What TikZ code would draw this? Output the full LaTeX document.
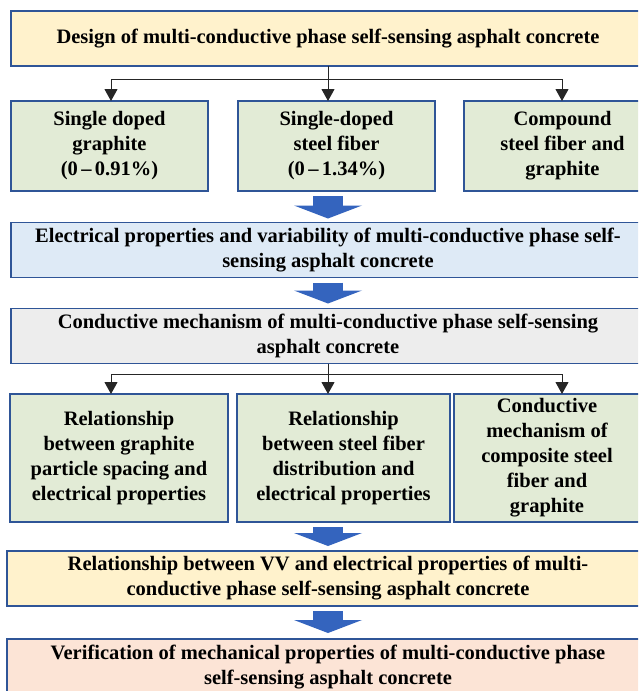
\documentclass[tikz,border=0pt]{standalone}
\usepackage{fontspec}
\setmainfont{Liberation Serif}
\usepackage{xcolor}
\usetikzlibrary{arrows.meta}
\definecolor{boxBlue}{HTML}{2F5597}
\definecolor{arrowBlue}{HTML}{3464BE}
\definecolor{yellowFill}{HTML}{FFF2CC}
\definecolor{greenFill}{HTML}{E2EBD6}
\definecolor{blueFill}{HTML}{DEEAF6}
\definecolor{grayFill}{HTML}{EDEDED}
\definecolor{pinkFill}{HTML}{FCE4D6}

\begin{document}
\begin{tikzpicture}[x=1pt, y=-1pt,
        font=\fontsize{20.5}{25}\selectfont\bfseries]
        \tikzstyle{boxStyle} = [draw=boxBlue, line width=1.5pt, align=center,
                inner sep=2pt, outer sep=0pt]
        \tikzstyle{wideBox} = [boxStyle, minimum width=634pt, minimum height=55pt]
        \tikzstyle{greenBox} = [boxStyle, fill=greenFill, minimum height=90pt]
        \tikzstyle{linkEdge} = [draw=black!85, line width=1pt,
                -{Triangle[length=12pt, width=13pt]}]
        \tikzstyle{bigArrow} = [draw=arrowBlue, line width=30pt,
                -{Triangle[length=13pt, width=68pt, line width=0pt]}]
        \fill[white] (0,0) rectangle (638,691);
        \useasboundingbox (0,0) rectangle (638,691);
        \clip (0,0) rectangle (638,691);
        \node[wideBox, fill=yellowFill] (design) at (328,38.5)
            {Design of multi-conductive phase self-sensing asphalt concrete};
        \node[greenBox, minimum width=197pt] (graph) at (109.5,146)
            {Single doped\\graphite\\(0\,--\,0.91\%)};
        \node[greenBox, minimum width=197pt] (steel) at (336.5,146)
            {Single-doped\\steel fiber\\(0\,--\,1.34\%)};
        \node[greenBox, minimum width=197pt] (comp) at (562.5,146)
            {Compound\\steel fiber and\\graphite};
        \node[wideBox, fill=blueFill] (elec) at (328,250)
            {Electrical properties and variability of multi-conductive phase self-\\sensing asphalt concrete};
        \node[wideBox, fill=grayFill] (cond) at (328,336)
            {Conductive mechanism of multi-conductive phase self-sensing\\asphalt concrete};
        \node[greenBox, minimum width=218pt, minimum height=128pt] (relGr) at (119,458)
            {Relationship\\between graphite\\particle spacing and\\electrical properties};
        \node[greenBox, minimum width=213pt, minimum height=128pt] (relSt) at (343.5,458)
            {Relationship\\between steel fiber\\distribution and\\electrical properties};
        \node[greenBox, minimum width=186pt, minimum height=128pt] (mech) at (547,458)
            {Conductive\\mechanism of\\composite steel\\fiber and\\graphite};
        \node[wideBox, fill=yellowFill, minimum width=642pt] (vv) at (328,578.5)
            {Relationship between VV and electrical properties of multi-\\conductive phase self-sensing asphalt concrete};
        \node[wideBox, fill=pinkFill, minimum width=642pt, minimum height=56pt] (verif) at (328,667)
            {Verification of mechanical properties of multi-conductive phase\\self-sensing asphalt concrete};
        \coordinate (forkA) at (328,79);
        \coordinate (forkB) at (328,374);
        \coordinate (colL) at (111,0);
        \coordinate (colM) at (328,0);
        \coordinate (colR) at (562,0);
        \draw[draw=black!85, line width=1pt] (design.south) -- (forkA);
        \draw[draw=black!85, line width=1pt] (cond.south) -- (forkB);
        \foreach \col/\dest in {colL/graph, colM/steel, colR/comp}
            \path[linkEdge] (forkA) -| (\col |- \dest.north);
        \foreach \col/\dest in {colL/relGr, colM/relSt, colR/mech}
            \path[linkEdge] (forkB) -| (\col |- \dest.north);
        \foreach \from/\dest/\gap in {steel/elec/4, elec/cond/5, relSt/vv/5, vv/verif/6}
            \path[bigArrow, shorten <=5pt, shorten >=\gap pt]
                (colM |- \from.south) -- (colM |- \dest.north);
    \end{tikzpicture}
\end{document}
